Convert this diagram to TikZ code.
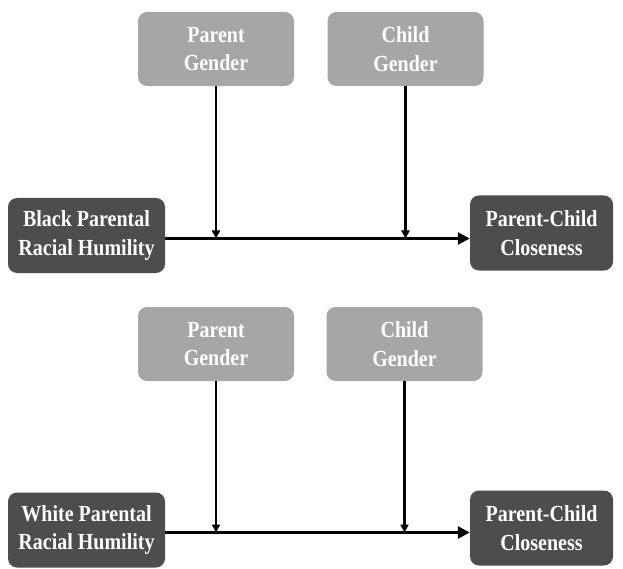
\documentclass[tikz,border=0pt]{standalone}
\usepackage{graphicx}
\usepackage{fontspec}
\setmainfont{Liberation Serif}
\usetikzlibrary{arrows.meta}
\definecolor{lightbox}{HTML}{A6A6A6}
\definecolor{darkbox}{HTML}{4D4D4D}
\newcommand\vst[1]{\scalebox{1}[1.15]{#1}}
\tikzset{
  box/.style={rectangle, rounded corners=9pt, draw=none, text=white, align=center,
    font=\bfseries\fontsize{20}{28.5}\selectfont, inner sep=0pt},
  modbox/.style={box, fill=lightbox, minimum width=156pt, minimum height=74pt},
  predbox/.style={box, fill=darkbox, minimum width=157pt, minimum height=75pt},
  outbox/.style={box, fill=darkbox, minimum width=143pt, minimum height=75pt},
  mainarrow/.style={line width=2.6pt, -{Triangle[length=12pt,width=12pt]}},
  modarrow/.style={line width=2.3pt, -{Triangle[length=8pt,width=8pt]}},
}
\begin{document}
\begin{tikzpicture}[x=1pt,y=-1pt]
\useasboundingbox (0,0) rectangle (623,569);
% top panel
\node[modbox] (pg1) at (216,49) {\vst{Parent}\\\vst{Gender}};
\node[modbox] (cg1) at (405.5,49) {\vst{Child}\\\vst{Gender}};
\node[predbox] (bp) at (86.5,235.5) {\vst{Black Parental}\\\vst{Racial Humility}};
\node[outbox] (pc1) at (541.5,233) {\vst{Parent-Child}\\\vst{Closeness}};
\coordinate (h1) at (0,238.5);
\draw[mainarrow] (bp.east |- h1) -- (pc1.west |- h1);
\draw[modarrow] (pg1.south) -- (pg1.south |- h1);
\draw[modarrow] (cg1.south) -- (cg1.south |- h1);
% bottom panel
\node[modbox] (pg2) at (216,344) {\vst{Parent}\\\vst{Gender}};
\node[modbox] (cg2) at (404.5,344) {\vst{Child}\\\vst{Gender}};
\node[predbox] (wp) at (86.5,530) {\vst{White Parental}\\\vst{Racial Humility}};
\node[outbox] (pc2) at (541.5,528) {\vst{Parent-Child}\\\vst{Closeness}};
\coordinate (h2) at (0,532.5);
\draw[mainarrow] (wp.east |- h2) -- (pc2.west |- h2);
\draw[modarrow] (pg2.south) -- (pg2.south |- h2);
\draw[modarrow] (cg2.south) -- (cg2.south |- h2);
\end{tikzpicture}
\end{document}
